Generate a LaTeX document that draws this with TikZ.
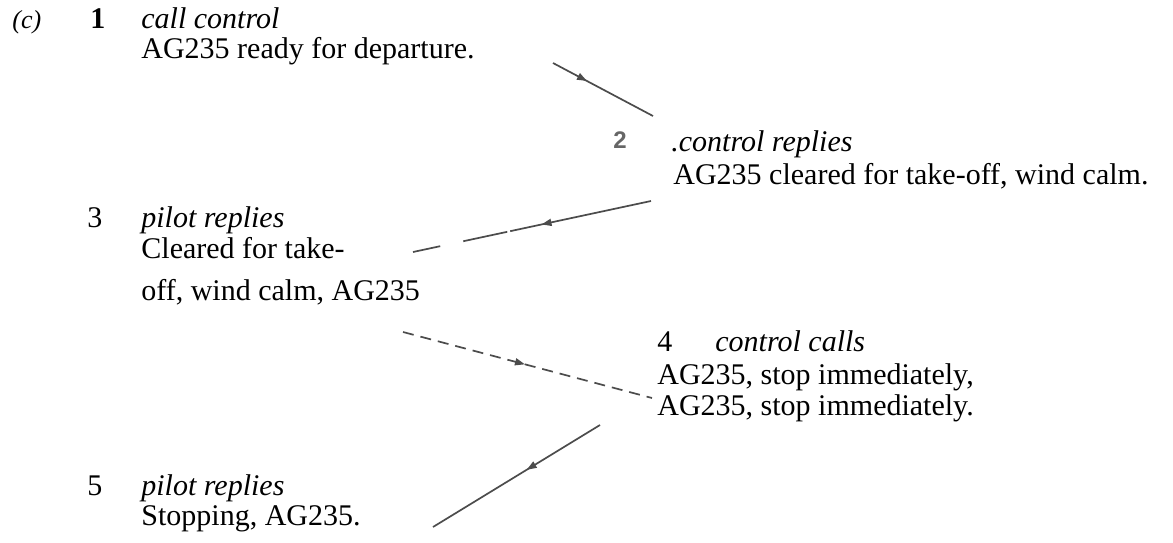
\documentclass[tikz,border=0pt]{standalone}
\usepackage{fontspec}
\setmainfont{Liberation Serif}
\newfontfamily\numfont{Liberation Sans}
\usetikzlibrary{arrows.meta,decorations.markings}

\begin{document}
\begin{tikzpicture}[x=0.5pt,y=-0.5pt,
  txt/.style={anchor=base west,inner sep=0pt,font=\fontsize{15}{17}\selectfont},
  hd/.style={txt,font=\fontsize{15}{17}\selectfont\itshape},
  wire/.style={draw=black!70,line width=0.85pt},
  midarrow/.style={postaction={decorate},decoration={markings,
     mark=at position #1 with {\arrow[solid]{Triangle[length=5pt,width=3.5pt]}}}}]
\useasboundingbox (0,0) rectangle (1173,542);
% message 1
\node[hd,font=\fontsize{13}{15}\selectfont\itshape] (tag) at (12,28) {(c)};
\node[txt,font=\fontsize{15}{17}\selectfont\bfseries] (n1) at (90,28) {1};
\node[hd] (h1) at (141,28) {call control};
\node[txt] (m1) at (141,58) {AG235 ready for departure.};
% message 2
\node[txt,font=\fontsize{12}{14}\numfont\bfseries,text=black!60] (n2) at (613,148) {2};
\node[hd] (h2) at (671,151) {.control replies};
\node[txt] (m2) at (673,184) {AG235 cleared for take-off, wind calm.};
% message 3
\node[txt] (n3) at (87,227) {3};
\node[hd] (h3) at (141,227) {pilot replies};
\node[txt] (m3a) at (141,258) {Cleared for take-};
\node[txt] (m3b) at (141,300) {off, wind calm, AG235};
% message 4
\node[txt] (n4) at (657,351) {4};
\node[hd] (h4) at (715,351) {control calls};
\node[txt] (m4a) at (657,384) {AG235, stop immediately,};
\node[txt] (m4b) at (657,415) {AG235, stop immediately.};
% message 5
\node[txt] (n5) at (87,495) {5};
\node[hd] (h5) at (141,495) {pilot replies};
\node[txt] (m5) at (141,525) {Stopping, AG235.};
% line ends
\coordinate (a1) at (553,63);  \coordinate (b1) at (653,116);
\coordinate (a2) at (651,201); \coordinate (b2) at (413,252);
\coordinate (a3) at (403,332); \coordinate (b3) at (652,398);
\coordinate (a4) at (600,425); \coordinate (b4) at (433,527);
\draw[wire,midarrow=0.34] (a1) -- (b1);
\draw[wire,midarrow=0.46,dash pattern=on 72pt off 1.5pt on 22.5pt off 11.8pt on 14pt] (a2) -- (b2);
\draw[wire,midarrow=0.49,dash pattern=on 5.5pt off 3.5pt] (a3) -- (b3);
\draw[wire,midarrow=0.44] (a4) -- (b4);
\end{tikzpicture}
\end{document}
